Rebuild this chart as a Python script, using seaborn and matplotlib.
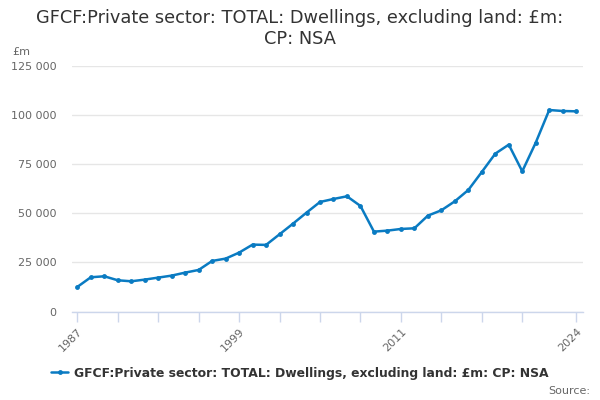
import matplotlib
matplotlib.use('Agg')
import matplotlib.pyplot as plt
import seaborn as sns
import pandas as pd
from matplotlib.ticker import FuncFormatter

# data
years = list(range(1987, 2025))
values = [12550, 17470, 17980, 15940, 15430, 16280, 17300, 18320, 19840, 21200,
          25780, 26970, 30020, 34090, 33950, 39350, 44770, 50370, 55800, 57320,
          58680, 53760, 40700, 41210, 42060, 42400, 48840, 51560, 56140, 61900,
          71060, 80390, 84970, 71400, 85990, 102600, 102100, 101930]
series_name = 'GFCF:Private sector: TOTAL: Dwellings, excluding land: £m: CP: NSA'
title = 'GFCF:Private sector: TOTAL: Dwellings, excluding land: £m:\nCP: NSA'
x_ticks = [1987, 1990, 1993, 1996, 1999, 2002, 2005, 2008, 2011, 2014, 2017, 2020, 2024]
x_labels = ['1987', '', '', '', '1999', '', '', '', '2011', '', '', '', '2024']
y_ticks = [0, 25000, 50000, 75000, 100000, 125000]

df = pd.DataFrame({'year': years, 'value': values})

sns.set_style('white')
plt.rcParams['font.family'] = ['DejaVu Sans']

fig = plt.figure(figsize=(6, 4), dpi=100)
ax = fig.add_axes([0.1195, 0.221, 0.8525, 0.614])

line_col = '#0a7bc2'
sns.lineplot(data=df, x='year', y='value', ax=ax, color=line_col, linewidth=1.8,
             marker='o', markersize=3.5, markeredgewidth=0, label=series_name)

ax.set_xlim(1986.585, 2024.52)
ax.set_ylim(0, 125000)
ax.set_xlabel('')
ax.set_ylabel('')

ax.set_yticks(y_ticks)
ax.yaxis.set_major_formatter(FuncFormatter(lambda v, p: f'{int(v):,}'.replace(',', ' ')))
ax.grid(axis='y', color='#e6e6e6', linewidth=1)
ax.tick_params(axis='y', left=False, length=0, pad=11, labelsize=8, labelcolor='#666666')

ax.set_xticks(x_ticks)
ax.set_xticklabels(x_labels, rotation=45, ha='right', rotation_mode='anchor')
ax.tick_params(axis='x', bottom=True, length=7.5, width=1, color='#ccd6eb', direction='out',
               pad=3, labelsize=8, labelcolor='#666666')

for s in ['top', 'right', 'left']:
    ax.spines[s].set_visible(False)
ax.spines['bottom'].set_color('#ccd6eb')
ax.spines['bottom'].set_linewidth(1)

fig.text(0.5, 0.977, title, ha='center', va='top', fontsize=12.8, color='#333333',
         linespacing=1.2)
fig.text(0.02, 0.87, '£m', ha='left', va='center', fontsize=8, color='#666666')
fig.text(0.983, 0.022, 'Source:', ha='right', va='center', fontsize=8, color='#666666')

leg = ax.legend(loc='center', bbox_to_anchor=(0.5, 0.0675), bbox_transform=fig.transFigure,
                frameon=False, handlelength=1.4, handletextpad=0.5,
                prop={'size': 8.9, 'weight': 'bold'})
for t in leg.get_texts():
    t.set_color('#333333')

fig.savefig('out.png', dpi=100)
